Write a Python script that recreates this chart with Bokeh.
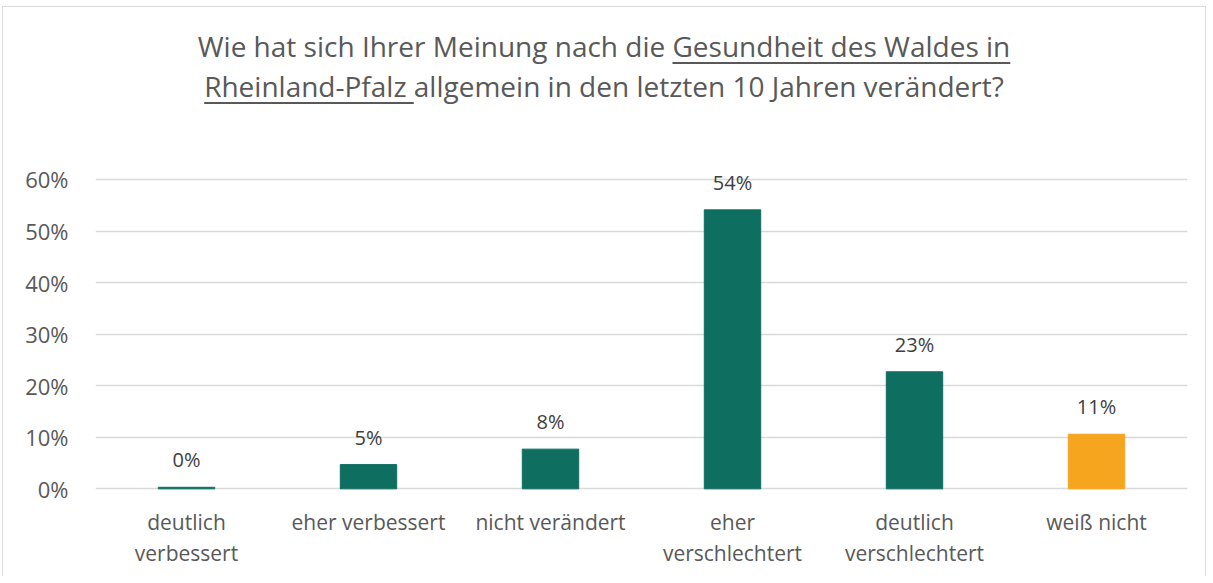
from bokeh.plotting import figure
from bokeh.models import (ColumnDataSource, FactorRange, Range1d, NumeralTickFormatter,
                          FixedTicker, Div)
from bokeh.layouts import column
from bokeh.core.properties import value
from bokeh.embed import file_html
from bokeh.resources import INLINE

# ---- data ----
categories = ["deutlich verbessert", "eher verbessert", "nicht verändert",
              "eher verschlechtert", "deutlich verschlechtert", "weiß nicht"]
tick_labels = ["deutlich\nverbessert", "eher verbessert", "nicht verändert",
               "eher\nverschlechtert", "deutlich\nverschlechtert", "weiß nicht"]
shares = [0.003, 0.047, 0.077, 0.541, 0.227, 0.106]
share_labels = ["0%", "5%", "8%", "54%", "23%", "11%"]
y_ticks = [0.0, 0.1, 0.2, 0.3, 0.4, 0.5, 0.6]

TEAL = "#0E6E60"
ORANGE = "#F6A51F"
colors = [TEAL, TEAL, TEAL, TEAL, TEAL, ORANGE]

FONT = "Open Sans"
GREY = "#595959"

src = ColumnDataSource(dict(cat=categories, share=shares, lab=share_labels, color=colors,
                            tick=tick_labels, zero=[0.0] * len(categories)))

title = Div(
    text=("Wie hat sich Ihrer Meinung nach die <u>Gesundheit des Waldes in</u><br>"
          "<u>Rheinland-Pfalz&nbsp;</u>allgemein in den letzten 10 Jahren verändert?"),
    width=1202, height=120, margin=0,
    styles={"text-align": "center", "font-family": FONT, "font-size": "28px",
            "line-height": "40px", "color": GREY, "padding-top": "19px",
            "box-sizing": "border-box", "text-underline-offset": "5px",
            "text-decoration-thickness": "2px"},
)

# frame spans -0.17 .. 0.66 so that value labels and category labels are not clipped
p = figure(width=1202, height=449, x_range=FactorRange(*categories, range_padding=0),
           y_range=Range1d(-0.17, 0.66), output_backend="svg", toolbar_location=None,
           min_border_left=92, min_border_right=18, min_border_top=21, min_border_bottom=0,
           outline_line_color=None, margin=0)

p.vbar(x="cat", top="share", width=0.31, color="color", source=src)
p.text(x="cat", y="share", text="lab", source=src, y_offset=-14,
       text_align="center", text_baseline="bottom", text_font=value(FONT),
       text_font_size="20px", text_color="#404040")
p.text(x="cat", y="zero", text="tick", source=src, y_offset=19,
       text_align="center", text_baseline="top", text_font=value(FONT),
       text_font_size="21px", text_color=GREY, text_line_height=1.12)

p.yaxis.ticker = FixedTicker(ticks=y_ticks)
p.yaxis.formatter = NumeralTickFormatter(format="0%")
p.yaxis.axis_line_color = None
p.yaxis.major_tick_line_color = None
p.yaxis.minor_tick_line_color = None
p.yaxis.major_label_standoff = 21
p.yaxis.major_label_text_font = FONT
p.yaxis.major_label_text_font_size = "22px"
p.yaxis.major_label_text_color = GREY

p.xaxis.visible = False

p.xgrid.grid_line_color = None
p.ygrid.grid_line_color = "#D9D9D9"
p.ygrid.grid_line_width = 1.5

layout = column(title, p, spacing=0, margin=(6, 0, 0, 2),
                styles={"border-top": "1px solid #D9D9D9", "border-left": "1px solid #D9D9D9",
                        "border-right": "1px solid #D9D9D9"})

open("out.html", "w").write(file_html(layout, INLINE))
